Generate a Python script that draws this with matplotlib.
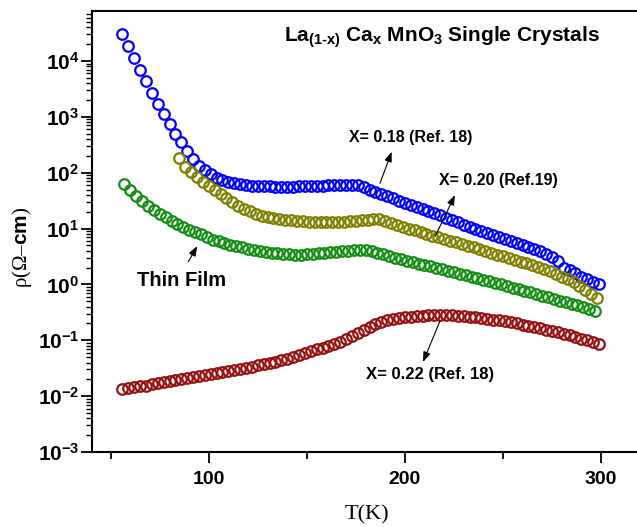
import matplotlib
matplotlib.use("Agg")
import math
import matplotlib.pyplot as plt
from matplotlib.ticker import FixedLocator, LogLocator, FuncFormatter, NullFormatter

# Data: T in K, resistivity in Ohm-cm

# X = 0.18 (Ref. 18)
t_018 = [56, 59, 62, 65, 68, 71, 74, 77, 80, 83, 86, 89, 92, 95, 98, 101, 104, 107, 110, 113,
         116, 119, 122, 125, 128, 131, 134, 137, 140, 143, 146, 149, 152, 155, 158, 161, 164, 167, 170, 173,
         176, 179, 182, 185, 188, 191, 194, 197, 200, 203, 206, 209, 212, 215, 218, 221, 224, 227, 230, 233,
         236, 239, 242, 245, 248, 251, 254, 257, 260, 263, 266, 269, 272, 275, 278, 281, 284, 287, 290, 293,
         296, 299]
rho_018 = [30000, 18600, 11500, 6900, 4400, 2700, 1700, 1120, 740, 500, 350, 240, 174, 132, 112, 93, 81, 74, 69, 65,
           62, 60, 58, 57.5, 57, 57, 56.5, 56.5, 56.5, 56.5, 57, 57, 57.5, 58, 58.5, 59, 59.5, 60, 60.5, 61,
           60, 55, 50, 45.7, 41.7, 38, 34.7, 31.6, 29.2, 26.9, 24.5, 22.6, 20.9, 19.1, 17.4, 15.7, 14.1, 12.9, 11.6, 10.7,
           9.8, 9.0, 8.3, 7.6, 7.0, 6.5, 6.0, 5.5, 5.1, 4.7, 4.3, 3.9, 3.5, 3.1, 2.6, 2.0, 1.78, 1.58, 1.38, 1.23,
           1.12, 1.02]

# X = 0.20 (Ref. 19)
t_020 = [85, 88, 91, 94, 97, 100, 103, 106, 109, 112, 115, 118, 121, 124, 127, 130, 133, 136, 139, 142,
         145, 148, 151, 154, 157, 160, 163, 166, 169, 172, 175, 178, 181, 184, 187, 190, 193, 196, 199, 202,
         205, 208, 211, 214, 217, 220, 223, 226, 229, 232, 235, 238, 241, 244, 247, 250, 253, 256, 259, 262,
         265, 268, 271, 274, 277, 280, 283, 286, 289, 292, 295, 298]
rho_020 = [180, 129, 105, 85, 69, 57, 49, 41.7, 34.7, 29.5, 25.7, 22.6, 20.4, 18.4, 17, 16, 15.3, 14.8, 14.3, 14,
           13.6, 13.5, 13.3, 13.2, 13, 12.9, 12.9, 13, 13.2, 13.5, 13.8, 14.1, 14.5, 14.8, 14.6, 13.5, 12.6, 11.6, 10.8, 10,
           9.3, 8.7, 8.0, 7.5, 7.0, 6.5, 6.1, 5.7, 5.3, 4.9, 4.6, 4.3, 3.9, 3.7, 3.4, 3.2, 2.95, 2.75, 2.57, 2.4,
           2.2, 2.04, 1.88, 1.72, 1.55, 1.38, 1.23, 1.10, 0.93, 0.79, 0.68, 0.56]

# Thin film
t_film = [57, 60, 63, 66, 69, 72, 75, 78, 81, 84, 87, 90, 93, 96, 99, 102, 105, 108, 111, 114,
          117, 120, 123, 126, 129, 132, 135, 138, 141, 144, 147, 150, 153, 156, 159, 162, 165, 168, 171, 174,
          177, 180, 183, 186, 189, 192, 195, 198, 201, 204, 207, 210, 213, 216, 219, 222, 225, 228, 231, 234,
          237, 240, 243, 246, 249, 252, 255, 258, 261, 264, 267, 270, 273, 276, 279, 282, 285, 288, 291, 294,
          297]
rho_film = [63, 50, 39, 31.6, 25.7, 21.4, 18.4, 16, 13.6, 12.2, 10.7, 9.5, 8.5, 7.9, 7.2, 6.3, 5.9, 5.5, 5.1, 4.8,
            4.6, 4.3, 4.1, 3.9, 3.8, 3.7, 3.6, 3.5, 3.47, 3.43, 3.43, 3.47, 3.5, 3.6, 3.7, 3.76, 3.85, 3.9, 4.0, 4.1,
            4.17, 4.1, 3.9, 3.7, 3.47, 3.24, 3.0, 2.8, 2.6, 2.5, 2.34, 2.2, 2.1, 1.97, 1.86, 1.74, 1.64, 1.55, 1.45, 1.36,
            1.29, 1.2, 1.14, 1.07, 1.0, 0.93, 0.88, 0.82, 0.77, 0.72, 0.68, 0.63, 0.59, 0.55, 0.51, 0.48, 0.45, 0.42, 0.39, 0.36,
            0.33]

# X = 0.22 (Ref. 18)
t_022 = t_018
rho_022 = [0.0135, 0.0140, 0.0145, 0.0150, 0.0155, 0.0162, 0.0170, 0.0178, 0.0186, 0.0195, 0.0202, 0.0209, 0.0219, 0.0226,
           0.0237, 0.0248, 0.026, 0.0272, 0.0285, 0.0299, 0.0309, 0.0324, 0.0339, 0.0355, 0.0372, 0.0389, 0.0407, 0.0437,
           0.0468, 0.050, 0.0537, 0.0582, 0.063, 0.0684, 0.0741, 0.0804, 0.087, 0.0933, 0.105, 0.117, 0.135, 0.155,
           0.174, 0.193, 0.211, 0.226, 0.24, 0.251, 0.26, 0.266, 0.272, 0.275, 0.279, 0.282, 0.282, 0.281, 0.279,
           0.275, 0.269, 0.263, 0.257, 0.251, 0.243, 0.234, 0.226, 0.219, 0.209, 0.2, 0.19, 0.182, 0.174, 0.164,
           0.155, 0.146, 0.138, 0.13, 0.123, 0.115, 0.107, 0.1, 0.092, 0.085]

x_major = [100, 200, 300]
x_minor = [50, 150, 250]

plt.rcParams['mathtext.fontset'] = 'custom'
plt.rcParams['mathtext.bf'] = 'Liberation Sans:bold'
plt.rcParams['mathtext.rm'] = 'Liberation Serif'
plt.rcParams['mathtext.it'] = 'Liberation Serif'
plt.rcParams['font.family'] = 'Liberation Sans'

W, H = 637, 527
fig = plt.figure(figsize=(W / 100, H / 100), dpi=100)


# pixel position (from top left) -> figure fraction
def fx(x):
    return x / W


def fy(y):
    return 1 - y / H


ax = fig.add_axes([fx(91.7), fy(452), fx(650 - 91.7), (452 - 10.7) / H])

mk = dict(linestyle='none', marker='o', markersize=7.6, markerfacecolor='none', markeredgewidth=1.6)
ax.plot(t_018, rho_018, markeredgecolor='#0000ff', **mk)
ax.plot(t_020, rho_020, markeredgecolor='#808000', **mk)
ax.plot(t_film, rho_film, markeredgecolor='#128e12', **mk)
ax.plot(t_022, rho_022, markeredgecolor='#961010', **mk)

ax.set_yscale('log')
ax.set_xlim(40.3, 325)
ax.set_ylim(1e-3, 10 ** 4.9)

ax.xaxis.set_major_locator(FixedLocator(x_major))
ax.xaxis.set_minor_locator(FixedLocator(x_minor))
ax.yaxis.set_major_locator(LogLocator(base=10, numticks=20))
ax.yaxis.set_minor_locator(LogLocator(base=10, subs=range(2, 10), numticks=20))
ax.yaxis.set_minor_formatter(NullFormatter())
ax.yaxis.set_major_formatter(FuncFormatter(lambda v, p: r'$\mathbf{10^{%d}}$' % round(math.log10(v))))
ax.set_xticklabels([str(v) for v in x_major], fontsize=14, fontweight='bold')

ax.tick_params(axis='x', which='major', direction='out', length=8, width=1.3, pad=6)
ax.tick_params(axis='x', which='minor', direction='out', length=5, width=1.3)
ax.tick_params(axis='y', which='major', direction='out', length=8, width=1.3, pad=1, labelsize=15)
ax.tick_params(axis='y', which='minor', direction='out', length=4, width=1.0)
ax.tick_params(top=False, right=False, which='both')
for s in ['left', 'bottom', 'top']:
    ax.spines[s].set_linewidth(1.5)
ax.spines['right'].set_visible(False)

# axis labels
fig.text(fx(367), fy(515), 'T(K)', fontsize=16, family='Liberation Serif', ha='center', va='center')
fig.text(fx(22), fy(247), r'$\rho(\Omega$–$\mathbf{cm}$)', fontsize=15, family='Liberation Serif',
         rotation=90, ha='center', va='center')

# title inside the plot
fig.text(fx(284), fy(42), r'La$_{\mathbf{(1‐x)}}$ Ca$_{\mathbf{x}}$ MnO$_{\mathbf{3}}$ Single Crystals',
         fontsize=15, fontweight='bold', ha='left', va='baseline')

arrow = dict(arrowstyle='-|>,head_length=0.6,head_width=0.22', color='black', lw=0.8, shrinkA=0, shrinkB=0)

ax.annotate('', xy=(fx(391.7), fy(151.7)), xytext=(fx(380), fy(183.3)),
            xycoords='figure fraction', textcoords='figure fraction', arrowprops=arrow)
fig.text(fx(411), fy(137.5), 'X= 0.18 (Ref. 18)', fontsize=11.5, fontweight='bold', ha='center', va='center')

ax.annotate('', xy=(fx(455), fy(195)), xytext=(fx(435), fy(236.7)),
            xycoords='figure fraction', textcoords='figure fraction', arrowprops=arrow)
fig.text(fx(498.7), fy(181), 'X= 0.20 (Ref.19)', fontsize=11.5, fontweight='bold', ha='center', va='center')

ax.annotate('', xy=(fx(197.3), fy(246)), xytext=(fx(188.3), fy(261.7)),
            xycoords='figure fraction', textcoords='figure fraction', arrowprops=arrow)
fig.text(fx(182), fy(281), 'Thin Film', fontsize=14.5, fontweight='bold', ha='center', va='center')

ax.annotate('', xy=(fx(423), fy(362)), xytext=(fx(440), fy(321)),
            xycoords='figure fraction', textcoords='figure fraction', arrowprops=arrow)
fig.text(fx(430), fy(375), 'X= 0.22 (Ref. 18)', fontsize=12, fontweight='bold',
         family=['Liberation Sans Narrow', 'Liberation Sans'], ha='center', va='center')

fig.savefig('out.png', dpi=100)
